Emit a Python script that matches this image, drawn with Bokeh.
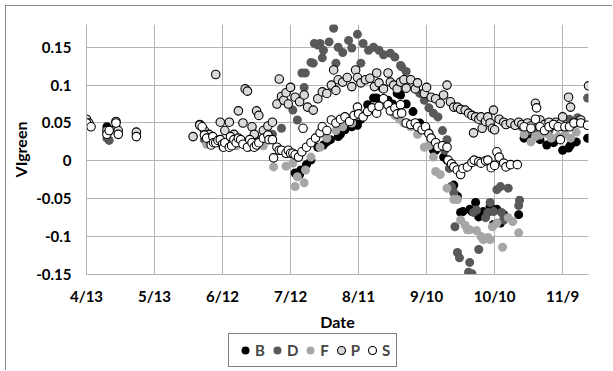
import numpy as np
from bokeh.plotting import figure
from bokeh.layouts import column
from bokeh.models import (FixedTicker, CustomJSTickFormatter, Legend, LegendItem, Range1d)
from bokeh.embed import file_html
from bokeh.resources import INLINE

# x = days after 4/13
date_ticks = [0, 30, 60, 90, 120, 150, 180, 210]
date_labels = ["4/13", "5/13", "6/12", "7/12", "8/11", "9/10", "10/10", "11/9"]
y_ticks = [-0.15, -0.1, -0.05, 0, 0.05, 0.1, 0.15]

b_points = [
    (9, 0.045), (10, 0.040), (13, 0.045), (22, 0.035),
    (55, 0.025), (65, 0.022), (75, 0.020),
    (92, -0.016), (94, -0.018), (94.5, -0.012), (97, -0.005), (99, 0.001), (102, 0.018),
    (104.5, 0.021), (106, 0.025), (107.6, 0.028), (111, 0.032), (112, 0.035), (114, 0.041),
    (117, 0.045), (118.7, 0.058), (119.5, 0.047), (121, 0.055), (124, 0.074), (126.6, 0.083),
    (128, 0.083), (130, 0.078), (130.5, 0.096), (133, 0.080), (135, 0.075), (137, 0.089),
    (138.5, 0.087), (141, 0.075), (144, 0.065), (147, 0.050), (150, 0.040), (152, 0.030),
    (153, 0.014), (154, 0.014), (157.5, 0.005), (159, 0.001), (161, -0.034), (162, -0.032),
    (162.8, -0.045), (163.6, -0.047), (165, -0.068), (166, -0.067), (169, -0.064), (170, -0.067),
    (171.6, -0.055), (173, -0.074), (175, -0.067), (177, -0.068), (178, -0.060), (179.5, -0.084),
    (181, -0.064), (182.6, -0.082), (184, -0.071), (190.6, -0.071),
    (193, 0.030), (196, 0.030), (200, 0.028), (203, 0.021), (206, 0.024), (210, 0.014),
    (212.6, 0.017), (213.5, 0.021), (216, 0.025), (221, 0.030),
]

d_points = [
    (0, 0.050), (9, 0.030), (10, 0.027), (14, 0.035), (22, 0.035),
    (52, 0.028), (58, 0.025), (64, 0.030), (70, 0.025), (76, 0.028), (82, 0.035), (86, 0.043),
    (90, 0.097), (91, 0.067), (93, 0.054), (95, 0.116), (96, 0.097), (96.5, 0.116), (99, 0.130),
    (100, 0.129), (100.5, 0.155), (102, 0.153), (103, 0.155), (104, 0.136), (104.5, 0.146),
    (107, 0.157), (109, 0.175), (110, 0.129), (111, 0.150), (113, 0.143), (115.6, 0.159),
    (117, 0.149), (119.5, 0.167), (121, 0.129), (122, 0.155), (124.4, 0.146), (126.6, 0.150),
    (129, 0.146), (131, 0.140), (134, 0.142), (136, 0.137), (138.5, 0.126), (139, 0.124),
    (141, 0.118), (143, 0.107), (145, 0.095), (147, 0.089), (149, 0.080), (151, 0.070),
    (153, 0.063), (155, 0.058), (157, 0.040), (158, 0.014), (159, 0.028), (160, -0.010),
    (161, -0.034), (162, -0.042), (162.5, -0.087), (163.6, -0.121), (164.5, -0.128),
    (168.5, -0.147), (169, -0.134), (170, -0.149), (170.7, -0.068), (172, -0.065), (173, -0.117),
    (176, -0.075), (177, -0.068), (178, -0.055), (179.5, -0.067), (181, -0.038), (182.6, -0.034),
    (183, -0.068), (184, -0.078), (186, -0.036), (190.6, -0.059), (191, -0.052),
    (192, 0.045), (195, 0.040), (198, 0.042), (201, 0.045), (204, 0.040), (207, 0.048),
    (210, 0.045), (213, 0.055), (216.6, 0.057), (221, 0.083),
]

f_points = [
    (0, 0.052), (9, 0.035), (13, 0.040), (22, 0.032),
    (53, 0.022), (60, 0.018), (66, 0.020), (72, 0.018), (78, 0.020), (82.5, -0.008),
    (88, -0.007), (91, -0.003), (92, -0.034), (93, -0.021), (96, -0.029), (96.6, -0.012),
    (99, 0.005), (103, 0.018), (106, 0.030), (110, 0.040), (113, 0.045), (117, 0.050),
    (120, 0.060), (124, 0.065), (128, 0.070), (131, 0.075), (134, 0.070), (136, 0.060),
    (138, 0.055), (140, 0.050), (143, 0.045), (146, 0.035), (149, 0.018), (151, 0.020),
    (153, 0.005), (154, -0.014), (156, -0.018), (159, -0.036), (162, -0.051), (163.6, -0.051),
    (165, -0.078), (167, -0.085), (168, -0.091), (169, -0.091), (172, -0.092), (174, -0.100),
    (175, -0.104), (177, -0.101), (178, -0.104), (179, -0.087), (181, -0.082), (183.5, -0.114),
    (186, -0.075), (188, -0.080), (190.6, -0.095),
    (193, 0.035), (196, 0.025), (198, 0.032), (200, 0.034), (203, 0.036), (205, 0.030),
    (208, 0.032), (211, 0.035), (213.5, 0.030), (216, 0.038),
]

p_points = [
    (0, 0.055), (1, 0.050), (9, 0.040), (13, 0.052), (14, 0.040), (22, 0.038),
    (47, 0.032), (50, 0.048), (52, 0.040), (54, 0.035), (57, 0.114), (59, 0.051), (61, 0.040),
    (63, 0.051), (65, 0.035), (67, 0.066), (69, 0.050), (70, 0.095), (71, 0.092), (73, 0.045),
    (74, 0.035), (75, 0.066), (76, 0.060), (78, 0.040), (80, 0.046), (82, 0.051), (84, 0.075),
    (85, 0.108), (86, 0.085), (87, 0.080), (88, 0.090), (89, 0.075), (90, 0.097), (92, 0.084),
    (94, 0.078), (96, 0.087), (97.5, 0.071), (100, 0.067), (102, 0.082), (104, 0.091),
    (106, 0.089), (108, 0.100), (109, 0.120), (110, 0.093), (111, 0.107), (113, 0.104),
    (115, 0.110), (117, 0.098), (118.7, 0.120), (119.5, 0.110), (121, 0.103), (123, 0.107),
    (125, 0.109), (127, 0.098), (128, 0.116), (129, 0.103), (131, 0.095), (133, 0.116),
    (134, 0.104), (135.5, 0.100), (137, 0.095), (138.5, 0.104), (140, 0.107), (141, 0.096),
    (143, 0.107), (145, 0.095), (146, 0.103), (149, 0.089), (150, 0.097), (152, 0.084),
    (154, 0.082), (156, 0.076), (157.5, 0.087), (159, 0.100), (160.5, 0.078), (162, 0.071),
    (163.6, 0.071), (165, 0.068), (167, 0.067), (168.5, 0.063), (170, 0.060), (170.7, 0.037),
    (171.6, 0.058), (173, 0.055), (174, 0.058), (174.5, 0.043), (176, 0.052), (177, 0.058),
    (178, 0.050), (179, 0.043), (179.5, 0.067), (180, 0.041), (182, 0.055), (184, 0.051),
    (185, 0.048), (187, 0.050), (189, 0.047), (190.6, 0.051), (192, 0.048), (194.5, 0.050),
    (196, 0.046), (198, 0.076), (200, 0.054), (202, 0.048), (204, 0.051), (206, 0.047),
    (207, 0.051), (209, 0.049), (210, 0.058), (212.6, 0.084), (213.5, 0.071), (215, 0.050),
    (218, 0.054), (221.4, 0.099),
]

s_points = [
    (0, 0.050), (2, 0.045), (9, 0.035), (10, 0.040), (13, 0.050), (14, 0.035), (22, 0.032),
    (50, 0.047), (51, 0.045), (52, 0.034), (53, 0.030), (55, 0.021), (55.7, 0.032), (56, 0.024),
    (57, 0.024), (58, 0.027), (59, 0.028), (60, 0.022), (60.5, 0.018), (61, 0.024), (63, 0.018),
    (63.5, 0.032), (64, 0.020), (65, 0.028), (66, 0.024), (67, 0.030), (68, 0.028), (69, 0.022),
    (71, 0.018), (72, 0.028), (73, 0.024), (74, 0.018), (75, 0.021), (76, 0.024), (78, 0.030),
    (80, 0.034), (80.5, 0.028), (82, 0.028), (82.5, 0.004), (84, 0.018), (85, 0.014), (86, 0.014),
    (88, 0.010), (89, 0.014), (90, 0.010), (91, 0.010), (92, 0.008), (93.5, 0.005), (95, 0.012),
    (95.5, 0.043), (97, 0.018), (99, 0.024), (101, 0.030), (103, 0.037), (104, 0.045),
    (106, 0.040), (108, 0.054), (110, 0.050), (112, 0.055), (114, 0.058), (116, 0.052),
    (118, 0.060), (119.5, 0.071), (120, 0.062), (122, 0.058), (124, 0.065), (126, 0.070),
    (128, 0.063), (129, 0.072), (131, 0.082), (133, 0.074), (134, 0.066), (136, 0.070),
    (137, 0.062), (138.5, 0.074), (139, 0.063), (141, 0.050), (143, 0.048), (145, 0.050),
    (146, 0.045), (148, 0.041), (149.5, 0.045), (151, 0.036), (152, 0.030), (154, 0.024),
    (155, 0.018), (157, 0.020), (159, 0.018), (159.5, 0.001), (161, -0.004), (162, -0.008),
    (163.5, -0.012), (165, -0.018), (166, -0.010), (168, -0.008), (170, -0.002), (171, 0.001),
    (173, -0.001), (174, -0.003), (176, 0.000), (177, 0.001), (178.5, -0.009), (180, -0.006),
    (181, 0.012), (182, 0.005), (184, -0.003), (185, -0.008), (187, -0.005), (190, -0.005),
    (193, 0.045), (196, 0.043), (198, 0.055), (198.5, 0.070), (200, 0.045), (202, 0.040),
    (204, 0.045), (206, 0.048), (208, 0.045), (209, 0.028), (211, 0.045), (213, 0.045),
    (215, 0.050), (218, 0.050), (221, 0.047),
]

FONT = "Lato"
GRID = "#b3b3b3"

# main chart: content origin (6,6); frame spans x 86..588, y 24..275
p = figure(width=606, height=327, output_backend="svg", toolbar_location=None,
           x_range=Range1d(0, 221.4), y_range=Range1d(-0.15, 0.18),
           min_border_left=80, min_border_right=24, min_border_top=18, min_border_bottom=58)
p.outline_line_color = None
p.background_fill_color = "white"
p.border_fill_color = "white"

series = [
    ("B", b_points, "#000000", "#000000", 9, 0),
    ("D", d_points, "#595959", "#595959", 9, 0),
    ("F", f_points, "#a6a6a6", "#a6a6a6", 9, 0),
    ("P", p_points, "#d9d9d9", "#000000", 8.5, 1.1),
    ("S", s_points, "#ffffff", "#000000", 8.5, 1.1),
]

# legend strip below the chart
lg = figure(width=606, height=37, output_backend="svg", toolbar_location=None,
            x_range=Range1d(0, 1), y_range=Range1d(0, 1),
            x_axis_location=None, y_axis_location=None,
            min_border_left=0, min_border_right=0, min_border_top=0, min_border_bottom=0)
lg.outline_line_color = None
lg.xgrid.visible = False
lg.ygrid.visible = False

items = []
for name, pts, fill, line, size, lw in series:
    xs, ys = zip(*pts)
    style = dict(fill_color=fill, line_color=line if lw > 0 else None, line_width=max(lw, 0.01))
    p.scatter(list(xs), list(ys), size=size, **style)
    # proxy renderer for the legend (its point lies outside the strip's range)
    rl = lg.scatter([-5], [-5], size=size, **style)
    items.append(LegendItem(label=name, renderers=[rl]))

# axes
for ax in (p.xaxis[0], p.yaxis[0]):
    ax.axis_line_color = GRID
    ax.axis_line_width = 1
    ax.major_tick_line_color = None
    ax.minor_tick_line_color = None
    ax.major_tick_out = 0
    ax.major_tick_in = 0
    ax.major_label_text_font = FONT
    ax.major_label_text_font_style = "bold"
    ax.major_label_text_font_size = "15px"
    ax.major_label_text_color = "#000000"
    ax.axis_label_text_font = FONT
    ax.axis_label_text_font_style = "bold"
    ax.axis_label_text_font_size = "16px"
    ax.axis_label_text_color = "#000000"

p.xaxis.ticker = FixedTicker(ticks=date_ticks)
p.xaxis.major_label_overrides = {t: l for t, l in zip(date_ticks, date_labels)}
p.xaxis.axis_label = "Date"
p.xaxis.major_label_standoff = 12
p.xaxis.axis_label_standoff = 4

p.yaxis.ticker = FixedTicker(ticks=y_ticks)
p.yaxis.formatter = CustomJSTickFormatter(code="return String(Math.round(tick*100)/100);")
p.yaxis.axis_label = "VIgreen"
p.yaxis.major_label_standoff = 15
p.yaxis.axis_label_standoff = 3

p.xgrid.ticker = FixedTicker(ticks=date_ticks)
p.ygrid.ticker = FixedTicker(ticks=y_ticks)
for g in (p.xgrid[0], p.ygrid[0]):
    g.grid_line_color = GRID
    g.grid_line_width = 1

legend = Legend(items=items, orientation="horizontal", location=(142, 3),
                label_text_font=FONT, label_text_font_style="bold", label_text_font_size="15px",
                glyph_width=20, glyph_height=20, label_standoff=0, label_width=0, spacing=2,
                padding=6, margin=0, border_line_color="#000000", border_line_width=1,
                background_fill_color="white", background_fill_alpha=1.0)
lg.add_layout(legend)

layout = column(p, lg, spacing=0)
layout.styles = {"margin-left": "5px", "margin-top": "5px",
                 "border-left": "1px solid #8a8a8a", "border-top": "1px solid #8a8a8a"}
open("out.html", "w").write(file_html(layout, INLINE))
